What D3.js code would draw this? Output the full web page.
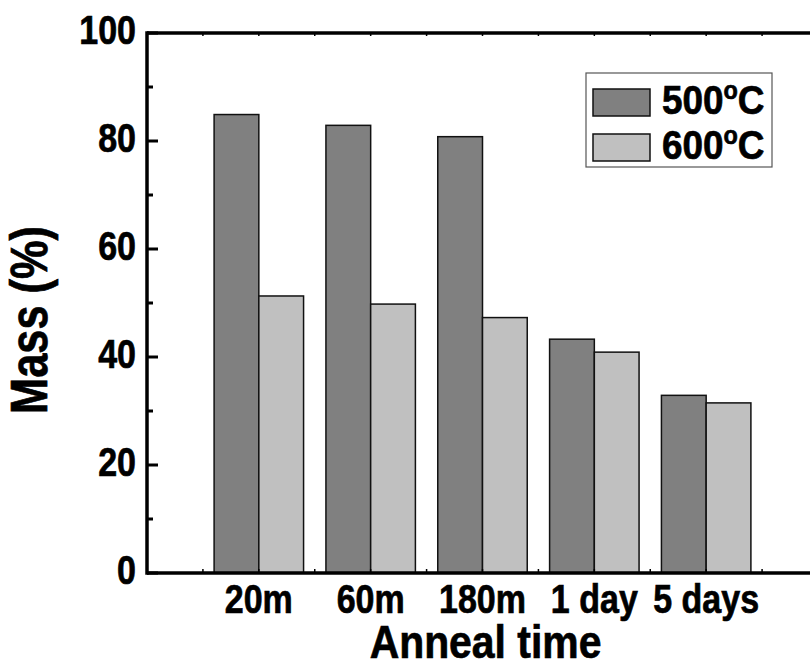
<!DOCTYPE html>
<html>
<head>
<meta charset="utf-8">
<script src="https://cdn.jsdelivr.net/npm/d3@7"></script>
<style>
body { margin: 0; background: #fff; }
text { font-family: "Liberation Sans", Arial, sans-serif; font-weight: bold; fill: #000; stroke: #000; stroke-width: 0.7px; }
</style>
</head>
<body>
<div id="graphic"></div>
<script>
var categories = ['20m', '60m', '180m', '1 day', '5 days'];
var mass500 = [84.9, 82.9, 80.8, 43.3, 32.9];
var mass600 = [51.3, 49.8, 47.3, 40.9, 31.5];
var seriesNames = ['500', '600'];
var yTicks = [0, 20, 40, 60, 80, 100];

var width = 810, height = 669;
var margin = {top: 33, left: 147, bottom: 96};
var squeeze = 0.85;

var colors = d3.scaleOrdinal()
	.domain(seriesNames)
	.range(['#808080', '#c0c0c0']);

var svg = d3.select("#graphic").append("svg")
	.attr("width", width)
	.attr("height", height);

// x axis runs 0..12, groups sit on 2,4,...,10; right edge is off the page
var x = d3.scaleLinear().domain([0, 12]).range([margin.left, 818]);
var y = d3.scaleLinear().domain([0, 100]).range([height - margin.bottom, margin.top]);
var barW = 0.8;

var groups = categories.map(function(c, i) {
	return {cat: c, pos: 2 * (i + 1), v500: mass500[i], v600: mass600[i]};
});

var bars = svg.append("g").attr("class", "bars");

groups.forEach(function(d) {
	bars.append("rect")
		.attr("x", x(d.pos - barW))
		.attr("y", y(d.v500))
		.attr("width", x(d.pos) - x(d.pos - barW))
		.attr("height", y(0) - y(d.v500))
		.attr("fill", colors('500'))
		.attr("stroke", "#111")
		.attr("stroke-width", 1.5);
	bars.append("rect")
		.attr("x", x(d.pos))
		.attr("y", y(d.v600))
		.attr("width", x(d.pos + barW) - x(d.pos))
		.attr("height", y(0) - y(d.v600))
		.attr("fill", colors('600'))
		.attr("stroke", "#111")
		.attr("stroke-width", 1.5);
});

// frame + ticks
var axes = svg.append("g").attr("class", "axes");
var xt = d3.range(0, 13);

xt.forEach(function(t) {
	axes.append("line")
		.attr("x1", x(t)).attr("x2", x(t))
		.attr("y1", y(0)).attr("y2", y(0) - 4)
		.attr("stroke", "#000").attr("stroke-width", 1.5);
	axes.append("line")
		.attr("x1", x(t)).attr("x2", x(t))
		.attr("y1", y(100)).attr("y2", y(100) + 3)
		.attr("stroke", "#000").attr("stroke-width", 1.5);
});

d3.range(0, 101, 10).forEach(function(t) {
	var major = t % 20 === 0;
	axes.append("line")
		.attr("x1", x(0)).attr("x2", x(0) + (major ? 11 : 6))
		.attr("y1", y(t)).attr("y2", y(t))
		.attr("stroke", "#000").attr("stroke-width", 3);
});

axes.append("line")
	.attr("x1", x(0)).attr("x2", x(12))
	.attr("y1", y(0)).attr("y2", y(0))
	.attr("stroke", "#000").attr("stroke-width", 3.5);
axes.append("line")
	.attr("x1", x(0)).attr("x2", x(12))
	.attr("y1", y(100)).attr("y2", y(100))
	.attr("stroke", "#000").attr("stroke-width", 3.5);
axes.append("line")
	.attr("x1", x(0)).attr("x2", x(0))
	.attr("y1", y(0) + 1.75).attr("y2", y(100) - 1.75)
	.attr("stroke", "#000").attr("stroke-width", 3.5);

// y tick labels
yTicks.forEach(function(t) {
	svg.append("text")
		.attr("transform", "translate(" + (x(0) - 11) + "," + (y(t) + 11) + ") scale(" + squeeze + ",1)")
		.attr("text-anchor", "end")
		.style("font-size", "40px")
		.text(t);
});

// x tick labels
groups.forEach(function(d) {
	svg.append("text")
		.attr("transform", "translate(" + x(d.pos) + ",613) scale(" + squeeze + ",1)")
		.attr("text-anchor", "middle")
		.style("font-size", "40px")
		.text(d.cat);
});

// axis titles
svg.append("text")
	.attr("transform", "translate(" + ((x(0) + x(12)) / 2 + 3) + ",658) scale(0.87,1)")
	.attr("text-anchor", "middle")
	.style("font-size", "47px")
	.text("Anneal time");

svg.append("text")
	.attr("transform", "translate(47,320) rotate(-90) scale(" + squeeze + ",1)")
	.attr("text-anchor", "middle")
	.style("font-size", "51px")
	.text("Mass (%)");

// legend
var legend = svg.append("g").attr("transform", "translate(586,73)");
legend.append("rect")
	.attr("width", 186).attr("height", 94)
	.attr("fill", "#fff").attr("stroke", "#555").attr("stroke-width", 1.2);

seriesNames.forEach(function(s, i) {
	var row = legend.append("g").attr("transform", "translate(0," + (i * 45) + ")");
	row.append("rect")
		.attr("x", 7).attr("y", 16)
		.attr("width", 57).attr("height", 27)
		.attr("fill", colors(s)).attr("stroke", "#111").attr("stroke-width", 1.5);
	var t = row.append("text")
		.attr("transform", "translate(76,41) scale(0.9,1)")
		.style("font-size", "41px");
	t.append("tspan").text(s);
	t.append("tspan").attr("dy", -15).style("font-size", "26px").text("o");
	t.append("tspan").attr("dy", 15).text("C");
});
</script>
</body>
</html>
